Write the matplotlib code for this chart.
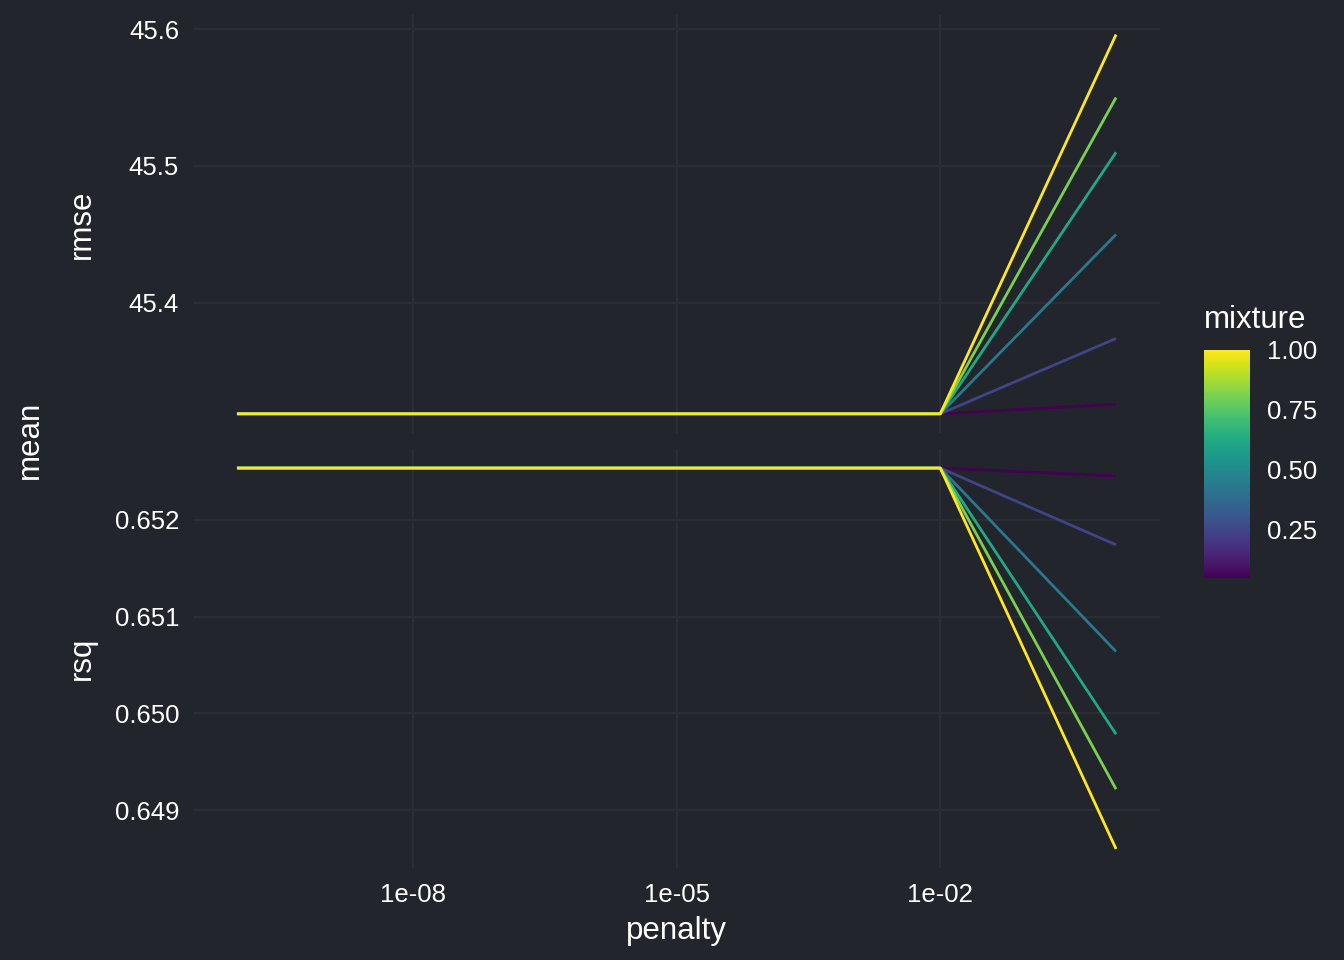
import matplotlib.pyplot as plt
import numpy as np

# penalty levels and mixture levels
penalty = [1e-10, 1e-8, 1e-6, 1e-4, 1e-2, 1.0]
mixture = [0.05, 0.24, 0.43, 0.62, 0.81, 1.0]

# mean rmse per mixture (one value per penalty)
rmse = {
    0.05: [45.319, 45.319, 45.319, 45.319, 45.319, 45.326],
    0.24: [45.319, 45.319, 45.319, 45.319, 45.319, 45.374],
    0.43: [45.319, 45.319, 45.319, 45.319, 45.319, 45.450],
    0.62: [45.319, 45.319, 45.319, 45.319, 45.319, 45.510],
    0.81: [45.319, 45.319, 45.319, 45.319, 45.319, 45.550],
    1.0:  [45.319, 45.319, 45.319, 45.319, 45.319, 45.596],
}
# mean rsq per mixture
rsq = {
    0.05: [0.652536, 0.652536, 0.652536, 0.652536, 0.652536, 0.652454],
    0.24: [0.652536, 0.652536, 0.652536, 0.652536, 0.652536, 0.651742],
    0.43: [0.652536, 0.652536, 0.652536, 0.652536, 0.652536, 0.650639],
    0.62: [0.652536, 0.652536, 0.652536, 0.652536, 0.652536, 0.649784],
    0.81: [0.652536, 0.652536, 0.652536, 0.652536, 0.652536, 0.649216],
    1.0:  [0.652536, 0.652536, 0.652536, 0.652536, 0.652536, 0.648598],
}

bg = '#22252c'
grid = '#2c2f37'
txt = '#ffffff'
plt.rcParams['font.family'] = ['Liberation Sans', 'DejaVu Sans']

W, H = 1344, 960
fig = plt.figure(figsize=(13.44, 9.6), dpi=100, facecolor=bg)
ax1 = fig.add_axes([0.1436, 0.549, 0.7195, 0.435])
ax2 = fig.add_axes([0.1436, 0.0958, 0.7195, 0.4365], sharex=ax1)

cmap = plt.get_cmap('viridis')
norm = plt.Normalize(min(mixture), max(mixture))

for ax, data in [(ax1, rmse), (ax2, rsq)]:
    ax.set_facecolor(bg)
    for m in mixture:
        ax.plot(penalty, data[m], color=cmap(norm(m)), lw=2.0, solid_capstyle='butt')
    ax.set_xscale('log')
    ax.grid(True, color=grid, lw=1.3)
    ax.set_axisbelow(True)
    for s in ax.spines.values():
        s.set_visible(False)
    ax.tick_params(colors=txt, labelsize=18.5, length=0, pad=10)
    ax.minorticks_off()

ax1.set_yticks([45.4, 45.5, 45.6])
ax1.set_yticklabels(['45.4', '45.5', '45.6'])
ax1.set_ylim(45.305, 45.610)
ax2.set_yticks([0.649, 0.650, 0.651, 0.652])
ax2.set_yticklabels(['0.649', '0.650', '0.651', '0.652'])
ax2.set_ylim(0.648401, 0.652733)

ax2.set_xticks([1e-8, 1e-5, 1e-2])
ax2.set_xticklabels(['1e-08', '1e-05', '1e-02'])
ax2.set_xlim(10 ** -10.5, 10 ** 0.5)
ax2.minorticks_off()
ax1.tick_params(axis='x', labelbottom=False)
ax2.tick_params(axis='x', pad=11)
ax2.set_xlabel('penalty', color=txt, fontsize=22.5, labelpad=6)

# facet strip labels and shared y title
def vlabel(x_px, y_px, s):
    fig.text(x_px / W, 1 - y_px / H, s, color=txt, fontsize=22.5, rotation=90,
             rotation_mode='anchor', ha='center', va='baseline')

vlabel(90, 224, 'rmse')
vlabel(90, 658, 'rsq')
vlabel(38, 440, 'mean')

# colorbar legend
cax = fig.add_axes([0.8958, 0.398, 0.0342, 0.2375])
sm = plt.cm.ScalarMappable(cmap=cmap, norm=norm)
cb = fig.colorbar(sm, cax=cax, ticks=[0.25, 0.5, 0.75, 1.0])
cb.ax.set_yticklabels(['0.25', '0.50', '0.75', '1.00'])
cb.ax.tick_params(colors=txt, labelsize=18.5, length=0, pad=12)
cb.outline.set_visible(False)
fig.text(0.8955, 0.667, 'mixture', color=txt, fontsize=22.5, ha='left', va='center')

fig.savefig('out.png', dpi=100, facecolor=bg)
